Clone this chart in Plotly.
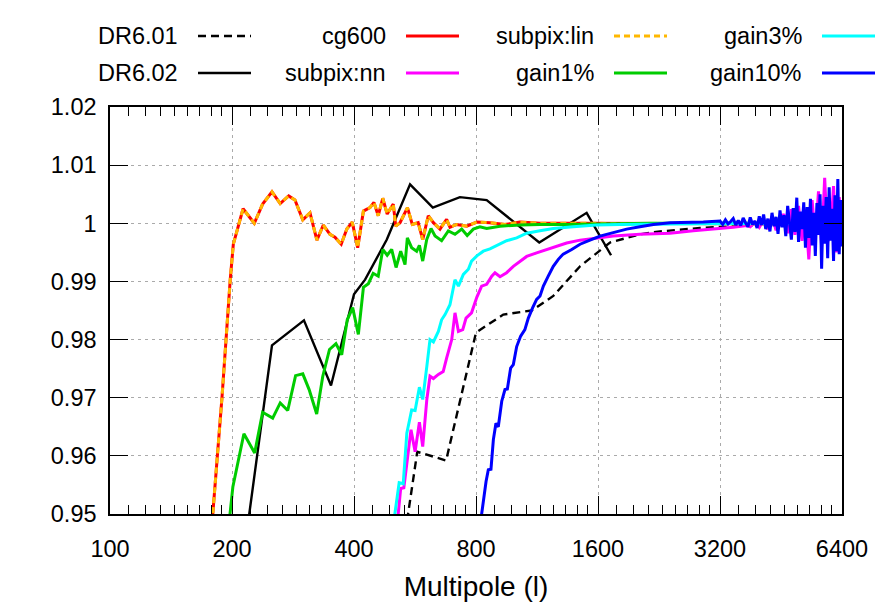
import math
import plotly.graph_objects as go

# ---- data (multipole l, power ratio) ----
dr601_l = [518, 573, 675, 800, 934, 1098, 1241, 1445, 1713, 2031, 2276, 2857, 4017]
dr601_r = [0.9400, 0.9607, 0.9592, 0.9812, 0.9843, 0.9850, 0.9875, 0.9926, 0.9967, 0.9981,
           0.9986, 0.9992, 0.9997]

dr602_l = [211, 251, 301, 351, 400, 426, 482, 550, 626, 730, 850, 1146, 1500, 1723]
dr602_r = [0.9400, 0.9790, 0.9833, 0.9721, 0.9878, 0.9903, 0.9972, 1.0067, 1.0027, 1.0045,
           1.0040, 0.9967, 1.0018, 0.9945]

cg600_l = [177, 189, 198, 201.5, 213, 227, 238, 251, 263, 276,
           286, 299, 311.5, 324, 336, 349, 359, 372, 384, 396,
           408.5, 422, 438, 448, 459, 471, 483, 500, 507, 519.5,
           542, 557, 576, 591, 610, 628, 652, 677, 690, 717,
           759, 804, 866, 943, 1027, 1151, 1365, 1618, 2000, 3000,
           4000, 5000, 6400]
cg600_r = [0.9450, 0.9702, 0.9903, 0.9964, 1.0025, 1.0000, 1.0033, 1.0054, 1.0034, 1.0047,
           1.0040, 1.0006, 1.0018, 0.9971, 0.9997, 0.9981, 0.9976, 0.9964, 0.9990, 1.0002,
           0.9958, 1.0021, 1.0027, 1.0036, 1.0013, 1.0043, 1.0016, 1.0033, 0.9995, 1.0001,
           1.0027, 0.9998, 1.0001, 0.9972, 1.0013, 1.0001, 0.9990, 1.0007, 0.9993, 0.9998,
           0.9995, 1.0002, 1.0001, 0.9998, 1.0002, 1.0000, 1.0000, 1.0000, 1.0000, 1.0000,
           1.0000, 0.9999, 0.9997]

# subpix:lin sits right on top of cg600
subpix_lin_l = list(cg600_l)
subpix_lin_r = list(cg600_r)

subpix_nn_l = [498, 514.5, 521.5, 531, 542, 553, 566, 580, 591, 605,
               616, 628, 646, 664, 677, 697, 710, 724, 742, 756,
               780, 804, 826, 850, 875, 891, 917, 952, 989, 1027,
               1067, 1129, 1196, 1266, 1339, 1445, 1588, 1745, 2031, 2409,
               2750, 3141, 3451, 3724,
               3800, 3900, 4000, 4100, 4200, 4300, 4400, 4500, 4600, 4700,
               4800, 4900, 5000, 5100, 5200, 5300, 5400, 5500, 5600, 5700,
               5800, 5900, 6000, 6100, 6200, 6300, 6400]
subpix_nn_r = [0.9400, 0.9501, 0.9544, 0.9545, 0.9599, 0.9645, 0.9607, 0.9658, 0.9616, 0.9697,
               0.9737, 0.9733, 0.9740, 0.9745, 0.9768, 0.9800, 0.9846, 0.9814, 0.9817, 0.9837,
               0.9846, 0.9873, 0.9892, 0.9895, 0.9909, 0.9915, 0.9908, 0.9915, 0.9926, 0.9935,
               0.9943, 0.9949, 0.9955, 0.9960, 0.9966, 0.9971, 0.9975, 0.9978, 0.9981, 0.9983,
               0.9987, 0.9990, 0.9993, 0.9996,
               0.9994, 1.0002, 0.9993, 1.0006, 0.9990, 1.0012, 0.9988, 1.0004, 1.0016, 0.9983,
               1.0024, 0.9980, 1.0030, 0.9970, 1.0022, 0.9938, 1.0040, 0.9975, 1.0055, 0.9960,
               1.0078, 0.9968, 0.9985, 1.0064, 0.9950, 1.0045, 0.9975]

gain1_l = [191, 198, 201, 214, 227.5, 238, 252, 263, 274.5, 287,
           299, 310, 323.6, 335, 348, 361, 373, 385, 397, 410,
           422, 434, 446, 459, 471, 483, 495.5, 508, 521.5, 534.5,
           541.6, 555, 571, 580, 591, 604.6, 619.6, 634, 658, 683.6,
           710, 737.6, 761, 788, 818, 850, 917, 1027, 1151, 1339,
           1618, 2150, 3000, 4000, 5000, 6400]
gain1_r = [0.9400, 0.9501, 0.9547, 0.9638, 0.9605, 0.9675, 0.9665, 0.9691, 0.9678, 0.9738,
           0.9741, 0.9714, 0.9672, 0.9737, 0.9783, 0.9793, 0.9774, 0.9834, 0.9855, 0.9809,
           0.9890, 0.9896, 0.9914, 0.9909, 0.9955, 0.9945, 0.9955, 0.9924, 0.9952, 0.9929,
           0.9975, 0.9958, 0.9952, 0.9962, 0.9935, 0.9972, 0.9991, 0.9978, 0.9970, 0.9987,
           0.9981, 0.9990, 0.9979, 0.9990, 0.9994, 0.9991, 0.9995, 0.9997, 0.9998, 0.9998,
           0.9999, 1.0000, 1.0000, 1.0000, 1.0000, 0.9998]

gain3_l = [482, 505, 517, 529, 540, 555, 566, 580, 591, 605,
           616, 628, 646, 658, 671, 690, 710, 724, 744.5, 766,
           780, 804, 834, 866, 900, 952, 1008, 1067, 1151, 1241,
           1391, 1588, 1813, 2031, 2857, 4500, 6400]
gain3_r = [0.9400, 0.9501, 0.9554, 0.9552, 0.9639, 0.9679, 0.9678, 0.9718, 0.9697, 0.9754,
           0.9800, 0.9796, 0.9814, 0.9834, 0.9843, 0.9860, 0.9903, 0.9892, 0.9912, 0.9921,
           0.9935, 0.9944, 0.9952, 0.9956, 0.9962, 0.9970, 0.9975, 0.9983, 0.9987, 0.9991,
           0.9994, 0.9997, 0.9998, 0.9998, 0.9999, 1.0000, 0.9998]

gain10_l = [790, 826, 847, 858, 871, 883, 896, 908, 926, 943,
            956, 974, 989, 1008, 1031, 1056, 1077, 1104, 1129, 1151,
            1173, 1206, 1241, 1277, 1313, 1378, 1445, 1529, 1618, 1745,
            1883, 2031, 2191, 2409, 2649, 2911,
            3200, 3250, 3300, 3350, 3400, 3450, 3500, 3550, 3600, 3650,
            3700, 3750, 3800, 3850, 3900, 3950, 4000, 4050, 4100, 4150,
            4200, 4250, 4300, 4350, 4400, 4450, 4500, 4550, 4600, 4650,
            4700, 4750, 4800, 4850, 4900, 4950, 5000, 5050, 5100, 5150,
            5200, 5250, 5300, 5350, 5400, 5450, 5500, 5550, 5600, 5650,
            5700, 5750, 5800, 5850, 5900, 5950, 6000, 6050, 6100, 6150,
            6200, 6250, 6300, 6350, 6400]
gain10_r = [0.9400, 0.9501, 0.9556, 0.9576, 0.9577, 0.9628, 0.9656, 0.9650, 0.9694, 0.9714,
            0.9715, 0.9751, 0.9757, 0.9788, 0.9806, 0.9817, 0.9837, 0.9855, 0.9869, 0.9875,
            0.9892, 0.9909, 0.9926, 0.9938, 0.9947, 0.9955, 0.9964, 0.9971, 0.9978, 0.9984,
            0.9990, 0.9994, 0.9998, 1.0001, 1.0001, 1.0002,
            1.0004, 0.9998, 1.0006, 0.9999, 1.0003, 1.0008, 0.9997, 1.0005, 0.9996, 1.0009,
            1.0001, 0.9994, 1.0010, 0.9998, 1.0004, 0.9992, 1.0012, 0.9997, 1.0015, 0.9990,
            1.0008, 0.9986, 1.0018, 0.9995, 1.0011, 0.9982, 1.0022, 0.9993, 1.0014, 0.9978,
            1.0030, 1.0002, 0.9972, 1.0026, 0.9985, 1.0044, 0.9968, 1.0020, 0.9990, 1.0036,
            0.9958, 1.0028, 0.9975, 1.0042, 0.9962, 1.0018, 0.9944, 1.0035, 0.9980, 1.0050,
            0.9922, 1.0030, 0.9965, 1.0045, 0.9940, 1.0062, 0.9970, 1.0025, 0.9935, 1.0048,
            0.9952, 1.0076, 0.9947, 1.0040, 0.9960]

x_ticks = [100, 200, 400, 800, 1600, 3200, 6400]
y_ticks = [0.95, 0.96, 0.97, 0.98, 0.99, 1.00, 1.01, 1.02]
y_ticktext = ['0.95', '0.96', '0.97', '0.98', '0.99', '1', '1.01', '1.02']

# plot order as gnuplot draws it (column-wise key)
series = [
    ('DR6.01', dr601_l, dr601_r, dict(color='black', width=2.4, dash='8px,5px')),
    ('DR6.02', dr602_l, dr602_r, dict(color='black', width=2.4)),
    ('cg600', cg600_l, cg600_r, dict(color='#ff0000', width=3)),
    ('subpix:nn', subpix_nn_l, subpix_nn_r, dict(color='#ff00ff', width=3)),
    ('subpix:lin', subpix_lin_l, subpix_lin_r, dict(color='#ffb800', width=3, dash='6px,4px')),
    ('gain1%', gain1_l, gain1_r, dict(color='#00cc00', width=3)),
    ('gain3%', gain3_l, gain3_r, dict(color='#00ffff', width=3)),
    ('gain10%', gain10_l, gain10_r, dict(color='#0000ff', width=3)),
]

fig = go.Figure()
for name, xs, ys, style in series:
    fig.add_trace(go.Scatter(x=xs, y=ys, mode='lines', name=name, line=style, showlegend=False))

# minor ticks: 8 per octave, linear steps inside each octave
x_minor = [x0 * (1 + k / 9) for x0 in x_ticks[:-1] for k in range(1, 9)]

# plot area as seen in the screenshot (page body adds an 8px offset)
OFF = 8
PL, PR, PT, PB = 110, 842, 107, 514
def px2x(px):
    return (px - PL) / (PR - PL)
def px2y(py):
    return (PB - py) / (PB - PT)

font = dict(family='Liberation Sans, Arial, sans-serif', size=23.5, color='black')
col_step = 208
row_y = [36, 73]
for i, (name, xs, ys, style) in enumerate(series):
    col, row = divmod(i, 2)
    text_right = 180 + col * col_step
    fig.add_annotation(x=px2x(text_right), y=px2y(row_y[row]), xref='paper', yref='paper',
                       text=name, showarrow=False, xanchor='right', yanchor='middle', font=font)
    fig.add_shape(type='line', xref='paper', yref='paper',
                  x0=px2x(text_right + 18), x1=px2x(text_right + 71),
                  y0=px2y(row_y[row]), y1=px2y(row_y[row]), line=style)

fig.update_layout(
    width=891, height=613,
    margin=dict(l=PL - OFF, r=891 - PR + OFF, t=PT - OFF, b=613 - PB + OFF),
    plot_bgcolor='white', paper_bgcolor='white',
    font=font,
)
fig.update_xaxes(
    type='log', range=[2, math.log10(6400)],
    tickmode='array', tickvals=x_ticks, ticktext=[str(v) for v in x_ticks],
    ticks='inside', ticklen=18, tickwidth=1.2, tickcolor='black',
    showline=True, linecolor='black', linewidth=1.5, mirror='allticks',
    showgrid=True, gridcolor='#aaaaaa', gridwidth=1, griddash='3px,4px',
    minor=dict(tickmode='array', tickvals=x_minor, ticks='inside', ticklen=9, tickwidth=1.2,
               tickcolor='black', showgrid=False),
    ticklabelstandoff=13,
    title=dict(text='Multipole (l)', standoff=15),
    zeroline=False,
)
fig.update_yaxes(
    range=[0.95, 1.02], tickmode='array', tickvals=y_ticks, ticktext=y_ticktext,
    ticks='inside', ticklen=18, tickwidth=1.2, tickcolor='black',
    showline=True, linecolor='black', linewidth=1.5, mirror='allticks',
    showgrid=True, gridcolor='#aaaaaa', gridwidth=1, griddash='3px,4px',
    ticklabelstandoff=7,
    zeroline=False,
)

fig.write_html("out.html")
